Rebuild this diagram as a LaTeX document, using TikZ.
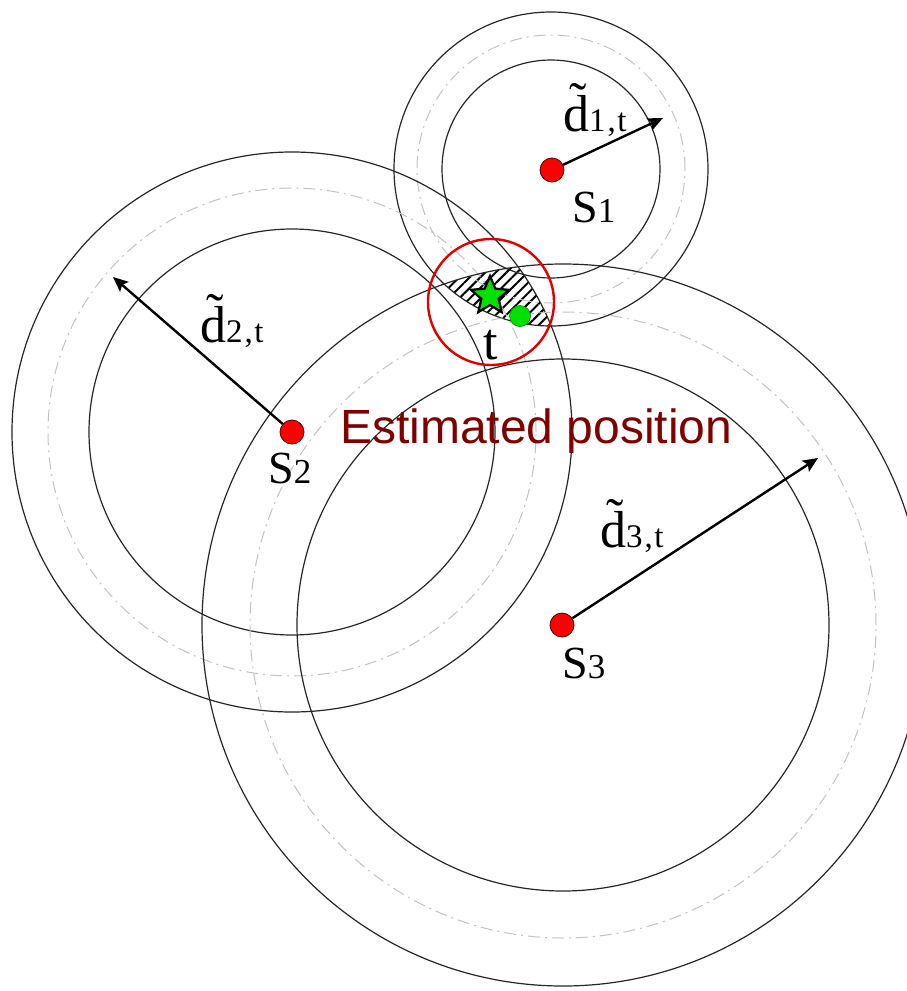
\documentclass[tikz,border=0pt]{standalone}
\usepackage{fontspec}
\setmainfont{Liberation Serif}
\newfontfamily\arialf{Liberation Sans}
\usetikzlibrary{arrows.meta,patterns.meta,shapes.geometric}
\definecolor{estred}{RGB}{128,0,0}
\definecolor{ringgray}{RGB}{195,195,195}
\definecolor{dotred}{RGB}{255,0,0}
\definecolor{dotgreen}{RGB}{0,225,0}
\newcommand{\slab}[2]{{\fontsize{46}{46}\selectfont #1\fontsize{35}{35}\selectfont #2}}
\newcommand{\dlab}[1]{{\fontsize{52}{52}\selectfont\~{d}\fontsize{33}{33}\selectfont #1\kern2pt,\kern1.5pt t}}
\begin{document}
\begin{tikzpicture}[x=1pt,y=-1pt,
  ring/.style={draw=black!85,line width=1.2pt},
  midring/.style={draw=ringgray,line width=1pt,dash pattern=on 12pt off 5pt on 2pt off 5pt},
  sensor/.style={circle,fill=dotred,draw=black!70!red,line width=0.8pt,minimum size=24pt,inner sep=0pt},
  rangearrow/.style={line width=2.4pt,-{Stealth[length=15pt,width=13pt,inset=3pt]}},
  lab/.style={inner sep=0pt,anchor=base west}]
\useasboundingbox (0,0) rectangle (906,991);
\coordinate (c1) at (551,169);
\coordinate (c2) at (292,432);
\coordinate (c3) at (563,625);
% hatched feasible region
\begin{scope}
  \clip (c1) circle[radius=157pt];
  \clip (c3) circle[radius=361pt];
  \fill[pattern={Lines[angle=45,distance=7.5pt,line width=2pt]}] (c2) circle[radius=280pt];
\end{scope}
% rings S1
\draw[ring] (c1) circle[radius=109pt];
\draw[midring] (c1) circle[radius=134pt];
\draw[ring] (c1) circle[radius=157pt];
% rings S2
\draw[ring] (c2) circle[radius=203pt];
\draw[midring] (c2) circle[radius=244pt];
\draw[ring] (c2) circle[radius=280pt];
% rings S3
\draw[ring] (c3) circle[radius=266pt];
\draw[midring] (c3) circle[radius=313pt];
\draw[ring] (c3) circle[radius=361pt];
% estimate circle
\coordinate (ec) at (491,302);
\draw[draw=red!90!black,line width=2.4pt] (ec) circle[radius=63pt];
% sensors
\node[sensor] (s1) at (552,170) {};
\node[sensor] (s2) at (292,432) {};
\node[sensor] (s3) at (562,625) {};
\coordinate (t1) at (663,118);
\coordinate (t2) at (113,277);
\coordinate (t3) at (818,458);
\draw[rangearrow] (s1) -- (t1);
\draw[rangearrow] (s2) -- (t2);
\draw[rangearrow] (s3) -- (t3);
% target and estimate
\node[star,star points=5,star point ratio=2.2,minimum size=40pt,inner sep=0pt,fill=dotgreen,draw=black,line width=2.2pt] (star) at (490,296) {};
\node[circle,fill=dotgreen,draw=green!50!black,line width=0.6pt,minimum size=21pt,inner sep=0pt] (gdot) at (520,316) {};
% labels
\node[lab] (ld1) at (563,131) {\dlab{1}};
\node[lab] (ls1) at (572,222) {\slab{S}{1}};
\node[lab] (ld2) at (200,342) {\dlab{2}};
\node[lab] (ls2) at (268,483) {\slab{S}{2}};
\node[lab] (ld3) at (600,547) {\dlab{3}};
\node[lab] (ls3) at (562,678) {\slab{S}{3}};
\node[lab] (lt) at (483,359) {\fontsize{52}{52}\selectfont t};
\node[lab,text=estred] (est) at (340,443) {\arialf\fontsize{48}{48}\selectfont Estimated position};
\end{tikzpicture}
\end{document}
